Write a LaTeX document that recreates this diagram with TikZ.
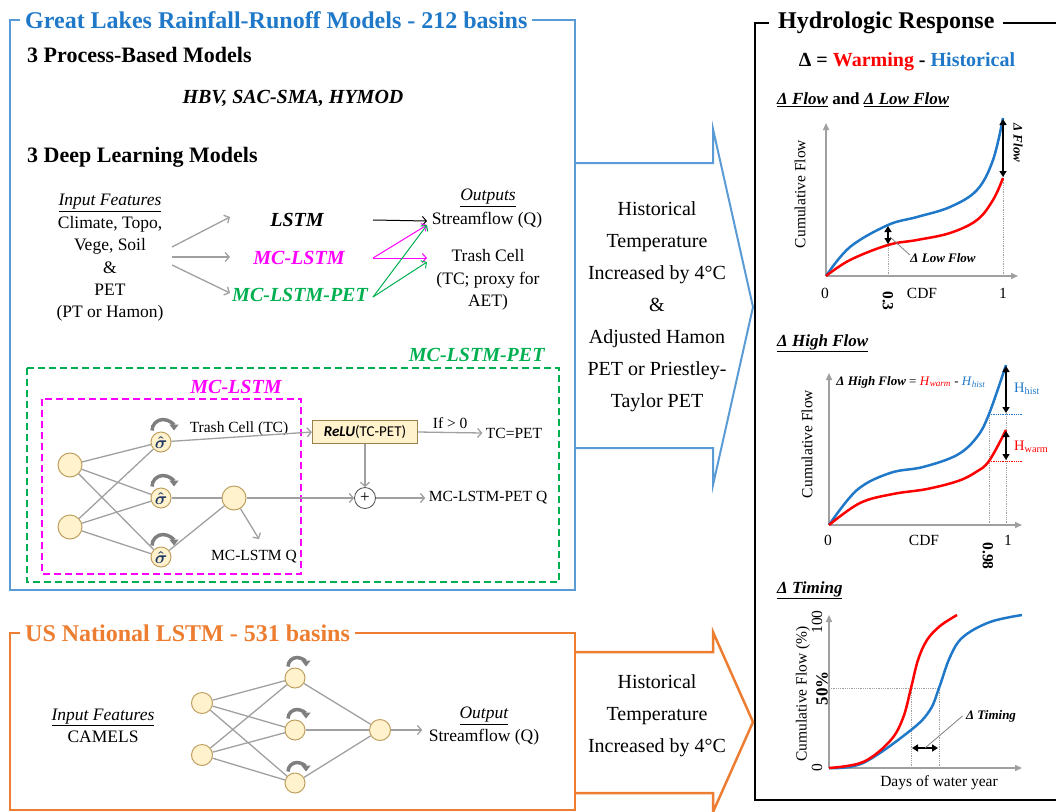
\documentclass[tikz,border=0pt]{standalone}
\usepackage{fontspec}
\setmainfont{Liberation Serif}
\newfontfamily\calibrifont{Carlito}
\usetikzlibrary{arrows.meta, calc}

\definecolor{glblue}{HTML}{5B9BD5}
\definecolor{gltext}{HTML}{1F78C8}
\definecolor{usorange}{HTML}{ED7D31}
\definecolor{mcgreen}{HTML}{00B050}
\definecolor{mcpink}{HTML}{FF00FF}
\definecolor{cellfill}{HTML}{FFF2CC}
\definecolor{celldraw}{HTML}{C0A060}
\definecolor{warmred}{HTML}{FF0000}
\definecolor{netgray}{HTML}{A0A0A0}
\definecolor{loopgray}{HTML}{7F7F7F}
\definecolor{sigblue}{HTML}{1F3864}

\newcommand{\fs}[2]{\fontsize{#1}{#2}\selectfont}
\newcommand{\sighat}{\textcolor{sigblue}{\boldmath$\hat{\sigma}$}}
\newcommand{\selfloop}[2]{\draw[loopar] ($(#1.north)+(-#2+2,-1)$) arc[start angle=180, end angle=360, radius=#2];}

\tikzset{
  frametitle/.style={fill=white, inner xsep=5pt, inner ysep=1pt, font=\fs{24}{28}\bfseries},
  head/.style={font=\fs{22}{26}\bfseries, inner sep=0pt},
  mname/.style={font=\fs{20}{24}\bfseries\itshape},
  txt/.style={font=\fs{17.5}{22.4}, align=center},
  small/.style={font=\fs{15.5}{18}},
  arrtext/.style={font=\fs{20}{32}, align=center},
  net/.style={draw=netgray, line width=1.3pt},
  netar/.style={net, -{Straight Barb[length=4pt,width=9pt]}},
  cell/.style={circle, draw=celldraw, fill=cellfill, line width=1pt, minimum size=24pt, inner sep=0pt},
  sig/.style={cell, minimum size=20pt, font=\fs{18}{18}},
  relubox/.style={draw=celldraw!80!black, fill=cellfill, line width=1pt, minimum width=105pt, minimum height=23pt, font=\fs{15}{18}\calibrifont},
  plusnode/.style={circle, draw=black!70, fill=white, line width=0.8pt, minimum size=21pt, inner sep=0pt, font=\fs{17}{17}},
  loopar/.style={draw=loopgray, line width=3.5pt, -{Triangle[length=6pt,width=9pt]}},
  pinkdash/.style={draw=mcpink, line width=2pt, dash pattern=on 7pt off 4pt},
  greendash/.style={draw=mcgreen, line width=2pt, dash pattern=on 7pt off 4pt},
  axis/.style={draw=netgray, line width=1.5pt, -{Triangle[length=7pt,width=6pt]}},
  histc/.style={draw=gltext, line width=2.5pt},
  warmc/.style={draw=warmred, line width=2.5pt},
  guide/.style={draw=netgray, densely dotted, line width=0.8pt},
  dbl/.style={line width=2pt, {Triangle[length=6pt,width=7pt]}-{Triangle[length=6pt,width=7pt]}},
  leader/.style={draw=netgray!80!black, line width=0.8pt},
  plabel/.style={font=\fs{15.5}{18}},
  pnote/.style={font=\fs{13}{16}\bfseries\itshape},
  phead/.style={font=\fs{17}{20}\bfseries, anchor=west, inner sep=0pt},
}

\begin{document}
\begin{tikzpicture}[x=1pt, y=-1pt]
\useasboundingbox (0,0) rectangle (1056,811);
\clip (0,0) rectangle (1056,811);

% frames
\draw[glblue, line width=2pt] (10,20) rectangle (575,590);
\draw[usorange, line width=2.5pt] (10,633) rectangle (575,810);
\draw[black, line width=2pt] (755,23) rectangle (1070,800);
\node[frametitle, text=gltext, anchor=west] (gltitle) at (20,20) {Great Lakes Rainfall-Runoff Models - 212 basins};
\node[frametitle, text=usorange, anchor=west] (ustitle) at (20,633) {US National LSTM - 531 basins};
\node[frametitle, anchor=west, inner xsep=9pt] (hrtitle) at (769,23) {Hydrologic Response};

% warming arrows
\draw[glblue, line width=2pt] (575,163) -- (713,163) -- (713,129) -- (753,307) -- (713,485) -- (713,448) -- (575,448);
\draw[usorange, line width=2.5pt] (575,652) -- (713,652) -- (713,632) -- (753,722) -- (713,812) -- (713,793) -- (575,793);
\node[arrtext] (glwarm) at (657,307) {Historical\\Temperature\\Increased by 4°C\\\&\\Adjusted Hamon\\PET or Priestley-\\Taylor PET};
\node[arrtext] (uswarm) at (657,716) {Historical\\Temperature\\Increased by 4°C};

% great lakes models
\node[head, anchor=west] (pbm) at (27,55) {3 Process-Based Models};
\node[mname] (hbv) at (293,98) {HBV, SAC-SMA, HYMOD};
\node[head, anchor=west] (dlm) at (27,157) {3 Deep Learning Models};

\node[txt] (inp) at (110,258) {\underline{\textit{Input Features}}\\Climate, Topo,\\Vege, Soil\\\&\\PET\\(PT or Hamon)};
\node[mname] (lstm) at (297,220) {LSTM};
\node[mname, text=mcpink] (mc) at (299,258) {MC-LSTM};
\node[mname, text=mcgreen] (mcpet) at (300,295) {MC-LSTM-PET};
\node[txt] (outs) at (488,198) {\underline{\textit{Outputs}}};
\node[txt] (sq) at (487,220) {Streamflow (Q)};
\node[txt] (tc) at (488,280) {Trash Cell\\(TC; proxy for\\AET)};

\coordinate (toL) at (230,217);
\coordinate (toM) at (230,257);
\coordinate (toP) at (230,293);
\coordinate (fromL) at (373,220);
\coordinate (fromM) at (373,258);
\coordinate (fromP) at (373,297);
\coordinate (inQ) at (427,221);
\coordinate (inQb) at (427,225);
\coordinate (inT) at (427,258);
\coordinate (inTb) at (427,262);
\draw[netar] ($(inp.east)+(5,-11)$) -- (toL);
\draw[netar] ($(inp.east)+(5,-1)$) -- (toM);
\draw[netar] ($(inp.east)+(5,7)$) -- (toP);
\draw[line width=1pt, -{Straight Barb[length=4pt,width=9pt]}] (fromL) -- (inQ);
\draw[mcpink, line width=1pt, -{Straight Barb[length=4pt,width=9pt]}] (fromM) -- (inQb);
\draw[mcpink, line width=1pt, -{Straight Barb[length=4pt,width=9pt]}] (fromM) -- (inT);
\draw[mcgreen, line width=1pt, -{Straight Barb[length=4pt,width=9pt]}] (fromP) -- (inQb);
\draw[mcgreen, line width=1pt, -{Straight Barb[length=4pt,width=9pt]}] (fromP) -- (inTb);

% MC-LSTM-PET network
\draw[greendash] (27,368) rectangle (559,582);
\node[mname, text=mcgreen, anchor=east] (petlab) at (548,355) {MC-LSTM-PET};
\draw[pinkdash] (42,399) rectangle (301,574);
\node[mname, text=mcpink] (mclab) at (236,387) {MC-LSTM};

\node[cell] (i1) at (70,465) {};
\node[cell] (i2) at (70,527) {};
\node[sig] (s1) at (161,442) {\sighat};
\node[sig] (s2) at (161,498) {\sighat};
\node[sig] (s3) at (161,557) {\sighat};
\node[cell] (o1) at (234,498) {};
\node[relubox] (relu) at (365,432) {\textbf{\textit{ReLU}}(TC-PET)};
\node[plusnode] (plus) at (365,498) {+};
\node[small] (tclab) at (239,429) {Trash Cell (TC)};
\node[small] (tcpet) at (514,433) {TC=PET};
\node[small] (petq) at (488,498) {MC-LSTM-PET Q};
\node[small] (mcq) at (254,557) {MC-LSTM Q};

\foreach \a in {i1,i2}
  \foreach \b in {s1,s2,s3}
    \draw[net] (\a) -- (\b);
\draw[net] (s2) -- (o1);
\draw[net] (s3) -- (o1);
\draw[netar] (s1) -- (relu.west);
\draw[netar] (relu.east) -- node[small, above] {If > 0} (tcpet.west);
\draw[netar] (relu.south) -- (plus.north);
\draw[netar] (o1) -- (plus.west);
\draw[netar] (plus.east) -- (petq.west);
\draw[netar] (o1) -- ($(mcq.north)+(5,-8)$);
\selfloop{s1}{11}
\selfloop{s2}{11}
\selfloop{s3}{11}

% US national LSTM network
\node[cell, minimum size=21pt] (b1) at (202,703) {};
\node[cell, minimum size=21pt] (b2) at (202,755) {};
\node[cell, minimum size=20pt] (h1) at (295,678) {};
\node[cell, minimum size=20pt] (h2) at (295,730) {};
\node[cell, minimum size=20pt] (h3) at (295,783) {};
\node[cell, minimum size=21pt] (bo) at (380,730) {};
\node[txt] (usin) at (103,726) {\underline{\textit{Input Features}}\\CAMELS};
\node[txt] (usout) at (484,726) {\underline{\textit{Output}}\\Streamflow (Q)};
\foreach \a in {b1,b2}
  \foreach \b in {h1,h2,h3}
    \draw[net] (\a) -- (\b);
\foreach \b in {h1,h2,h3}
  \draw[net] (\b) -- (bo);
\draw[netar] (bo) -- ($(usout.west)+(-3,4)$);
\selfloop{h1}{9}
\selfloop{h2}{9}
\selfloop{h3}{9}

% hydrologic response
\node (delta) at (907,62) {\fs{20}{24}\bfseries Δ = \textcolor{warmred}{Warming} - \textcolor{gltext}{Historical}};

% flow and low flow
\node[phead] (flowhead) at (777,100) {\underline{\itshape Δ Flow} and \underline{\itshape Δ Low Flow}};
\draw[axis] (826,276) -- (826,123);
\draw[axis] (826,276) -- (1018,276);
\draw[guide] (888,276) -- (888,225);
\draw[guide] (1003,276) -- (1003,118);
\draw[histc] plot[smooth, tension=0.6] coordinates {(826,276) (850,247) (888,225) (917,217) (950,207) (977,190) (993,160) (1003,118)};
\draw[warmc] plot[smooth, tension=0.6] coordinates {(826,276) (850,260) (888,245) (917,240) (950,233) (977,220) (993,200) (1003,178)};
\draw[dbl] (888,226) -- (888,244);
\draw[dbl] (1003,119) -- (1003,177);
\node[pnote, rotate=-90] (flowlab) at (1018,143) {Δ Flow};
\node[pnote] (lowlab) at (943,258) {Δ Low Flow};
\draw[leader] (890,237) -- ($(lowlab.west)+(3,-3)$);
\node[plabel, rotate=90] (cf1) at (800,194) {Cumulative Flow};
\node[plabel] (z1) at (825,293) {0};
\node[plabel] (cdf1) at (922,293) {CDF};
\node[plabel] (one1) at (1003,293) {1};
\node[plabel, font=\fs{15.5}{18}\bfseries, rotate=-90] (p03) at (888,301) {0.3};

% high flow
\node[phead] (highhead) at (777,343) {\underline{\itshape Δ High Flow}};
\draw[axis] (829,525) -- (829,373);
\draw[axis] (829,525) -- (1022,525);
\draw[guide] (989,525) -- (989,414);
\draw[guide] (1006,525) -- (1006,365);
\draw[guide, draw=gltext] (989,414) -- (1022,414);
\draw[guide, draw=warmred] (989,461) -- (1022,461);
\draw[histc] plot[smooth, tension=0.6] coordinates {(829,525) (857,490) (890,473) (923,467) (957,455) (977,437) (989,414) (1006,365)};
\draw[warmc] plot[smooth, tension=0.6] coordinates {(829,525) (860,503) (893,494) (927,489) (958,481) (976,472) (989,461) (1006,430)};
\draw[dbl] (1006,366) -- (1006,413);
\draw[dbl] (1006,431) -- (1006,460);
\node[font=\fs{14.5}{16}, text=gltext, anchor=west, inner sep=0pt] (hhist) at (1014,389) {H\textsubscript{hist}};
\node[font=\fs{14.5}{16}, text=warmred, anchor=west, inner sep=0pt] (hwarm) at (1014,447) {H\textsubscript{warm}};
\node[font=\fs{13}{16}] (hform) at (911,382) {\textbf{\textit{Δ High Flow}} = \textcolor{warmred}{\textit{H}\textsubscript{\textit{warm}}} - \textcolor{gltext}{\textit{H}\textsubscript{\textit{hist}}}};
\node[plabel, rotate=90] (cf2) at (807,444) {Cumulative Flow};
\node[plabel] (z2) at (828,540) {0};
\node[plabel] (cdf2) at (924,540) {CDF};
\node[plabel] (one2) at (1008,540) {1};
\node[plabel, font=\fs{15.5}{18}\bfseries, rotate=-90] (p098) at (988,556) {0.98};

% timing
\node[phead] (timhead) at (777,590) {\underline{\itshape Δ Timing}};
\draw[axis] (829,768) -- (829,615);
\draw[axis] (829,768) -- (1022,768);
\draw[guide] (829,688) -- (939,688);
\draw[guide] (911,688) -- (911,768);
\draw[guide] (939,688) -- (939,768);
\draw[histc] plot[smooth, tension=0.6] coordinates {(829,768) (863,763) (911,730) (930,710) (939,688) (950,657) (963,637) (990,622) (1022,615)};
\draw[warmc] plot[smooth, tension=0.6] coordinates {(829,768) (863,762) (890,741) (903,718) (911,688) (918,660) (927,640) (940,626) (957,615)};
\draw[dbl] (912,748) -- (938,748);
\node[pnote] (timlab) at (991,716) {Δ Timing};
\draw[leader] (925,748) -- (timlab.west);
\node[plabel, rotate=90] (cf3) at (803,694) {Cumulative Flow (\%)};
\node[plabel, rotate=90] (z3) at (817,768) {0};
\node[plabel, rotate=90] (h3lab) at (817,622) {100};
\node[plabel, font=\fs{17}{18}\bfseries, rotate=90] (p50) at (822,688) {50\%};
\node[plabel] (days) at (939,783) {Days of water year};
\end{tikzpicture}
\end{document}
